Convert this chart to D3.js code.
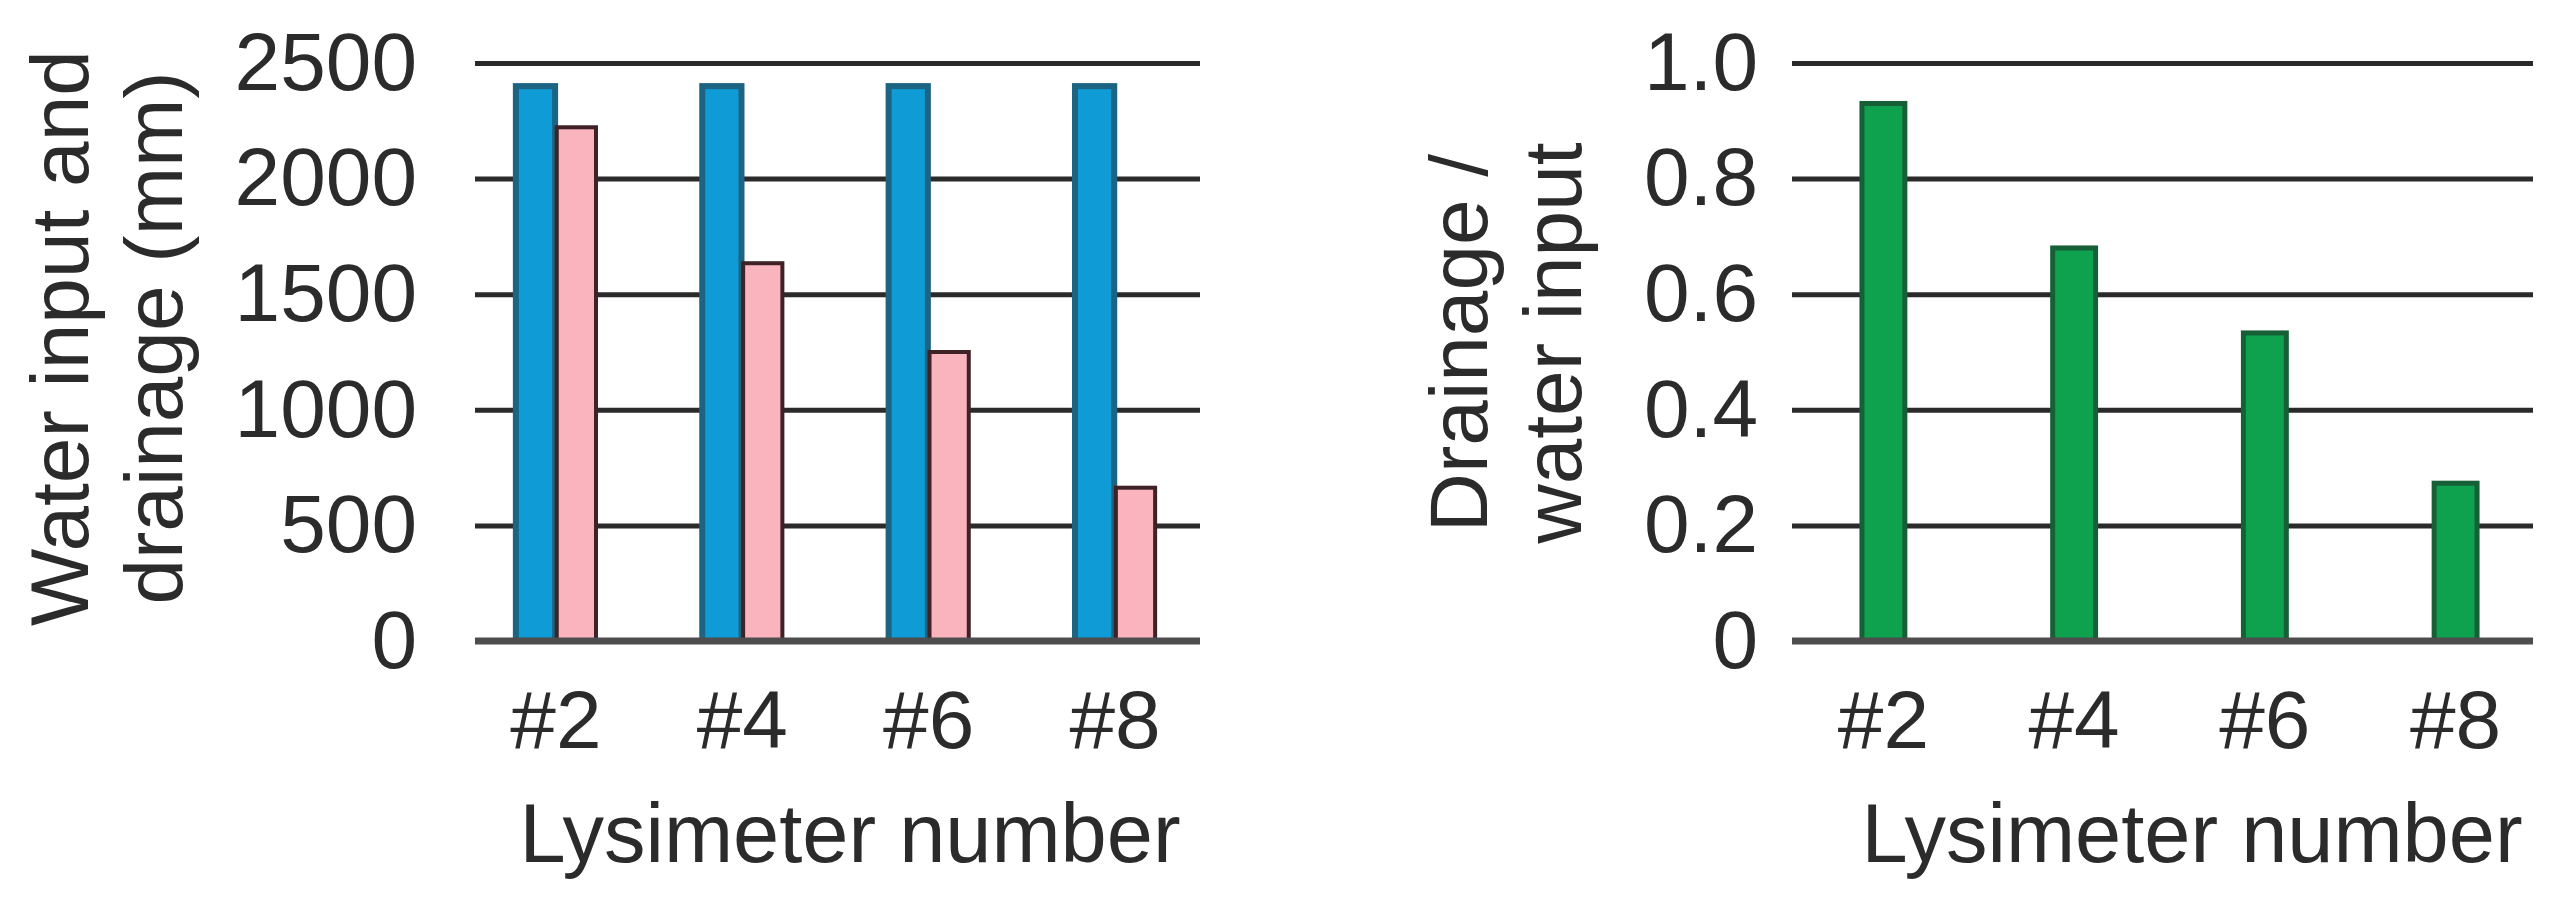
<!DOCTYPE html>
<html>
<head>
<meta charset="utf-8">
<script src="https://cdn.jsdelivr.net/npm/d3@7"></script>
<style>
  body { margin: 0; background: #fff; }
  text { font-family: "Liberation Sans", Arial, sans-serif; fill: #2b2b2b; }
</style>
</head>
<body>
<script>
//chart values
var lysimeters = ["#2", "#4", "#6", "#8"];
var waterInput = [2400, 2400, 2400, 2400];      //blue bars (mm)
var drainage = [2222, 1634, 1250, 663];         //pink bars (mm)
var drainageRatio = [0.93, 0.68, 0.533, 0.273]; //green bars
var leftTicks = [0, 500, 1000, 1500, 2000, 2500];
var rightTicks = [0, 0.2, 0.4, 0.6, 0.8, 1.0];
var rightTickLabels = ["0", "0.2", "0.4", "0.6", "0.8", "1.0"];
var seriesNames = ["Water input", "Drainage"];

//page size
var w = 2571, h = 917;

window.onload = function(){

    var svg = d3.select("body")
        .append("svg")
        .attr("width", w)
        .attr("height", h)
        .attr("class", "container");

    //shared vertical scales (both panels have the same plot height)
    var yLeft = d3.scaleLinear().domain([0, 2500]).range([641, 63]);
    var yRight = d3.scaleLinear().domain([0, 1]).range([641, 63]);

    //draws the grid lines + tick labels of one panel
    function grid(y, ticks, labels, x0, width, pad){
        var g = svg.append("g")
            .attr("class", "grid")
            .attr("transform", "translate(" + x0 + ",0)")
            .call(d3.axisLeft(y)
                .tickValues(ticks)
                .tickSize(-width)
                .tickPadding(pad)
                .tickFormat(function(d, i){ return labels ? labels[i] : d; }));
        g.select(".domain").remove();
        g.selectAll(".tick line")
            .attr("stroke", "#2a2a2a")
            .attr("stroke-width", 5);
        g.selectAll(".tick text")
            .style("font-size", "82px")
            .attr("fill", "#2b2b2b");
        return g;
    }

    //baseline drawn on top of the bars
    function baseline(y, x0, width){
        svg.append("line")
            .attr("class", "baseline")
            .attr("x1", x0)
            .attr("x2", x0 + width)
            .attr("y1", y(0))
            .attr("y2", y(0))
            .attr("stroke", "#4d4d4d")
            .attr("stroke-width", 7);
    }

    // ** LEFT PANEL: water input and drainage ** //
    var xLeft = d3.scaleBand()
        .domain(lysimeters)
        .range([473, 1198])
        .paddingInner(0.57)
        .paddingOuter(0.23);

    var xSub = d3.scaleBand()
        .domain(seriesNames)
        .range([0, xLeft.bandwidth()])
        .paddingInner(0.04);

    grid(yLeft, leftTicks, null, 475, 725, 58);

    var leftData = lysimeters.map(function(d, i){
        return {lys: d, values: [waterInput[i], drainage[i]]};
    });

    var groups = svg.selectAll(".group")
        .data(leftData)
        .enter()
        .append("g")
        .attr("class", "group")
        .attr("transform", function(d){ return "translate(" + xLeft(d.lys) + ",0)"; });

    groups.selectAll(".bar")
        .data(function(d){
            return d.values.map(function(v, j){ return {name: seriesNames[j], value: v}; });
        })
        .enter()
        .append("rect")
        .attr("class", "bar")
        .attr("x", function(d){ return xSub(d.name); })
        .attr("width", xSub.bandwidth())
        .attr("y", function(d){ return yLeft(d.value); })
        .attr("height", function(d){ return yLeft(0) - yLeft(d.value); })
        .style("fill", function(d){ return d.name == "Water input" ? "#0f9bd5" : "#f9b4be"; })
        .style("stroke", function(d){ return d.name == "Water input" ? "#1d6483" : "#3f2226"; })
        .style("stroke-width", function(d){ return d.name == "Water input" ? 6 : 4; });

    baseline(yLeft, 475, 725);

    //category labels
    svg.selectAll(".xlabelLeft")
        .data(lysimeters)
        .enter()
        .append("text")
        .attr("class", "xlabelLeft")
        .attr("text-anchor", "middle")
        .attr("x", function(d){ return xLeft(d) + xLeft.bandwidth() / 2; })
        .attr("y", 748)
        .style("font-size", "82px")
        .text(function(d){ return d; });

    svg.append("text")
        .attr("text-anchor", "middle")
        .attr("x", 850)
        .attr("y", 862)
        .style("font-size", "83px")
        .text("Lysimeter number");

    //two-line rotated y title
    var leftTitle = svg.append("text")
        .attr("text-anchor", "middle")
        .attr("transform", "rotate(-90)")
        .style("font-size", "82px");
    leftTitle.append("tspan").attr("x", -338).attr("y", 88).text("Water input and");
    leftTitle.append("tspan").attr("x", -338).attr("y", 182).text("drainage (mm)");

    // ** RIGHT PANEL: drainage / water input ** //
    var xRight = d3.scaleBand()
        .domain(lysimeters)
        .range([1799, 2540])
        .paddingInner(0.775)
        .paddingOuter(0.33);

    grid(yRight, rightTicks, rightTickLabels, 1792, 741, 34);

    svg.selectAll(".ratioBar")
        .data(lysimeters.map(function(d, i){ return {lys: d, value: drainageRatio[i]}; }))
        .enter()
        .append("rect")
        .attr("class", "ratioBar")
        .attr("x", function(d){ return xRight(d.lys); })
        .attr("width", xRight.bandwidth())
        .attr("y", function(d){ return yRight(d.value); })
        .attr("height", function(d){ return yRight(0) - yRight(d.value); })
        .style("fill", "#0ea24e")
        .style("stroke", "#175f36")
        .style("stroke-width", 5);

    baseline(yRight, 1792, 741);

    svg.selectAll(".xlabelRight")
        .data(lysimeters)
        .enter()
        .append("text")
        .attr("class", "xlabelRight")
        .attr("text-anchor", "middle")
        .attr("x", function(d){ return xRight(d) + xRight.bandwidth() / 2; })
        .attr("y", 748)
        .style("font-size", "82px")
        .text(function(d){ return d; });

    svg.append("text")
        .attr("text-anchor", "middle")
        .attr("x", 2192)
        .attr("y", 862)
        .style("font-size", "83px")
        .text("Lysimeter number");

    var rightTitle = svg.append("text")
        .attr("text-anchor", "middle")
        .attr("transform", "rotate(-90)")
        .style("font-size", "82px");
    rightTitle.append("tspan").attr("x", -343).attr("y", 1487).text("Drainage /");
    rightTitle.append("tspan").attr("x", -343).attr("y", 1581).text("water input");
};
</script>
</body>
</html>
